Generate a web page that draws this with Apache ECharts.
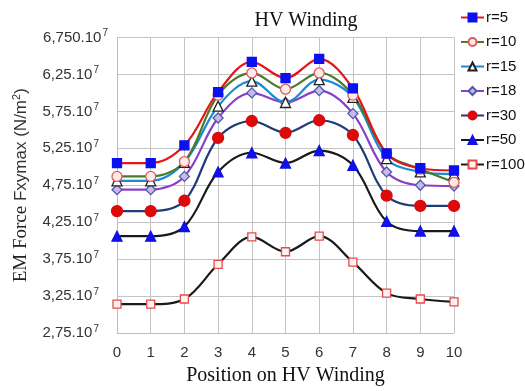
<!DOCTYPE html>
<html>
<head>
<meta charset="utf-8">
<script src="https://cdn.jsdelivr.net/npm/echarts@6/dist/echarts.min.js"></script>
<style>
  html, body { margin: 0; padding: 0; background: #fff; }
  #chart { width: 525px; height: 391px; }
</style>
</head>
<body>
<div id="chart"></div>
<script>
// Winding positions along the HV winding
const positions = ['0', '1', '2', '3', '4', '5', '6', '7', '8', '9', '10'];

// Maximum EM force Fxymax, in units of 10^7 N/m^2, one array per r value
const r5   = [5.05, 5.05, 5.29, 6.01, 6.42, 6.20, 6.46, 6.06, 5.18, 4.98, 4.95];
const r10  = [4.87, 4.87, 5.07, 5.97, 6.27, 6.05, 6.27, 5.97, 5.18, 4.97, 4.79];
const r15  = [4.81, 4.81, 5.06, 5.82, 6.16, 5.87, 6.18, 5.94, 5.11, 4.93, 4.90];
const r18  = [4.69, 4.69, 4.87, 5.66, 6.00, 5.87, 6.03, 5.72, 4.93, 4.75, 4.74];
const r30  = [4.40, 4.40, 4.54, 5.39, 5.62, 5.46, 5.63, 5.43, 4.61, 4.47, 4.47];
const r50  = [4.06, 4.06, 4.19, 4.93, 5.19, 5.05, 5.22, 5.02, 4.26, 4.13, 4.13];
const r100 = [3.14, 3.14, 3.21, 3.68, 4.05, 3.85, 4.06, 3.71, 3.29, 3.21, 3.17];

// Y tick values and their printed mantissas (each followed by ".10^7")
const yTickValues = [2.75, 3.25, 3.75, 4.25, 4.75, 5.25, 5.75, 6.25, 6.75];
const yTickLabels = ['2,75', '3,25', '3,75', '4,25', '4,75', '5,25', '5,75', '6,25', '6,750'];

const seriesNames = ['r=5', 'r=10', 'r=15', 'r=18', 'r=30', 'r=50', 'r=100'];

function lineSeries(name, data, lineColor, symbol, size, fill, stroke) {
  return {
    name: name,
    type: 'line',
    data: data,
    smooth: 0.35,
    symbol: symbol,
    symbolSize: size,
    showSymbol: true,
    lineStyle: { color: lineColor, width: 2.2 },
    itemStyle: { color: fill, borderColor: stroke, borderWidth: 1.3 },
    emphasis: { disabled: true },
    z: 3
  };
}

const chart = echarts.init(document.getElementById('chart'), null, { renderer: 'canvas' });

chart.setOption({
  animation: false,
  backgroundColor: '#ffffff',
  title: {
    text: 'HV Winding',
    left: 301,
    top: 6,
    textAlign: 'center',
    textStyle: { fontFamily: 'Liberation Serif', fontSize: 20, fontWeight: 'normal', color: '#111' }
  },
  legend: {
    orient: 'vertical',
    left: 455,
    top: 5,
    itemWidth: 23,
    itemHeight: 10,
    itemGap: 9.5,
    data: seriesNames,
    textStyle: { fontFamily: 'Liberation Sans', fontSize: 15, color: '#111', lineHeight: 15, padding: [0, 0, 0, -3] }
  },
  grid: { left: 117, right: 71, top: 37.5, bottom: 57 },
  xAxis: {
    type: 'category',
    data: positions,
    boundaryGap: false,
    name: 'Position on HV Winding',
    nameLocation: 'middle',
    nameGap: 33,
    nameTextStyle: { fontFamily: 'Liberation Serif', fontSize: 20, color: '#111' },
    axisLine: { show: true, lineStyle: { color: '#bdbdbd', width: 1 } },
    axisTick: { show: false },
    axisLabel: { margin: 12, fontFamily: 'Liberation Sans', fontSize: 15, color: '#333' },
    splitLine: { show: true, lineStyle: { color: '#c4c4c4', width: 1 } }
  },
  yAxis: {
    type: 'value',
    min: 2.75,
    max: 6.75,
    interval: 0.5,
    name: '{a|EM Force }{b|Fxymax (N/m}{s|2}{b|)}',
    nameLocation: 'middle',
    nameGap: 86,
    nameTextStyle: {
      rich: {
        a: { fontFamily: 'Liberation Serif', fontSize: 19, color: '#222' },
        b: { fontFamily: 'Liberation Sans', fontSize: 17, color: '#333' },
        s: { fontFamily: 'Liberation Sans', fontSize: 11, color: '#333', padding: [0, 0, 9, 0] }
      }
    },
    axisLine: { show: true, lineStyle: { color: '#bdbdbd', width: 1 } },
    axisTick: { show: false },
    axisLabel: {
      margin: 9,
      formatter: function (v) {
        const i = yTickValues.findIndex(function (t) { return Math.abs(t - v) < 1e-6; });
        if (i < 0) return '';
        const last = i === yTickValues.length - 1;
        return '{m|' + yTickLabels[i] + '.10}' + (last ? '{e|7}' : '{p|7}');
      },
      rich: {
        m: { fontFamily: 'Liberation Sans', fontSize: 15, color: '#333' },
        e: { fontFamily: 'Liberation Sans', fontSize: 10, color: '#333', padding: [0, 0, 8, 1] },
        p: { fontFamily: 'Liberation Sans', fontSize: 10, color: '#333', padding: [0, 9, 8, 1] }
      }
    },
    splitLine: { show: true, lineStyle: { color: '#c4c4c4', width: 1 } }
  },
  series: [
    lineSeries('r=100', r100, '#1a1a1a', 'rect', 8, '#fff3f3', '#e84a4a'),
    lineSeries('r=50', r50, '#1a1a1a', 'triangle', 10, '#1010e8', '#1010e8'),
    lineSeries('r=30', r30, '#1f3b78', 'circle', 11, '#dd0a0a', '#dd0a0a'),
    lineSeries('r=18', r18, '#8a3fc8', 'diamond', 10, '#c9b8ec', '#4f5aa8'),
    lineSeries('r=15', r15, '#1a8ad4', 'triangle', 10, '#ffffff', '#222222'),
    lineSeries('r=10', r10, '#4b7a2a', 'circle', 10, '#fbeaea', '#e05a5a'),
    lineSeries('r=5', r5, '#e4161b', 'rect', 9, '#0a10f0', '#0a10f0')
  ]
});
</script>
</body>
</html>
